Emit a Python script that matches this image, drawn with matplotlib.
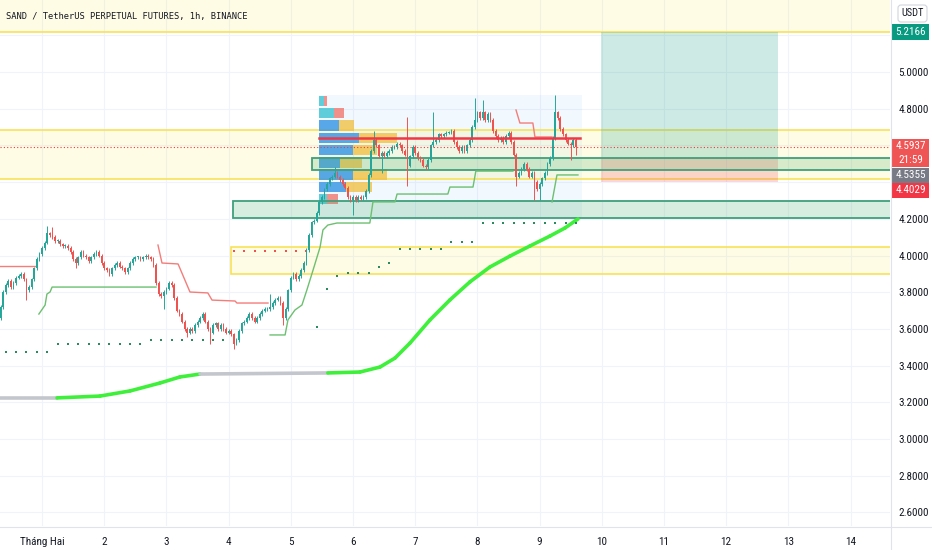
import matplotlib
matplotlib.use("Agg")
import matplotlib.pyplot as plt
from matplotlib import font_manager
from matplotlib.patches import Rectangle, FancyBboxPatch
from matplotlib.lines import Line2D
from matplotlib.transforms import IdentityTransform
import numpy as np

# ------------------------------------------------------------------ data
title = "SAND / TetherUS PERPETUAL FUTURES, 1h, BINANCE"
day_labels = ["Tháng Hai", "2", "3", "4", "5", "6", "7", "8", "9", "10", "11", "12", "13", "14"]
price_labels = [2.6, 2.8, 3.0, 3.2, 3.4, 3.6, 3.8, 4.0, 4.2, 4.8, 5.0]
grid_prices = [2.6, 2.8, 3.0, 3.2, 3.4, 3.6, 3.8, 4.0, 4.2, 4.4, 4.6, 4.8, 5.0, 5.2]

first_candle_hour = -16          # hours from 1 Feb 00:00
first_open = 3.66
closes = [
    3.72, 3.80, 3.84, 3.86, 3.83, 3.85, 3.88, 3.89, 3.90, 3.87,
    3.81, 3.83, 3.87, 3.93, 3.98, 4.01, 4.04, 4.07, 4.12, 4.11,
    4.10, 4.08, 4.08, 4.06, 4.05, 4.05, 4.04, 4.02, 3.98, 3.96,
    3.99, 4.02, 4.00, 3.99, 3.97, 3.99, 4.01, 4.02, 4.00, 3.96,
    3.93, 3.92, 3.90, 3.93, 3.95, 3.96, 3.94, 3.93, 3.91, 3.93,
    3.96, 3.98, 3.99, 3.99, 3.98, 3.99, 4.00, 3.99, 3.98, 3.95,
    3.85, 3.79, 3.78, 3.80, 3.82, 3.85, 3.84, 3.77, 3.70, 3.68,
    3.64, 3.60, 3.58, 3.60, 3.59, 3.62, 3.64, 3.66, 3.68, 3.64,
    3.60, 3.58, 3.62, 3.63, 3.60, 3.62, 3.60, 3.58, 3.59, 3.57,
    3.52, 3.54, 3.59, 3.63, 3.64, 3.66, 3.68, 3.66, 3.64, 3.66,
    3.68, 3.70, 3.71, 3.71, 3.72, 3.74, 3.76, 3.77, 3.74, 3.66,
    3.71, 3.81, 3.88, 3.90, 3.87, 3.89, 3.92, 3.96, 4.03, 4.11,
    4.18, 4.19, 4.23, 4.29, 4.32, 4.36, 4.39, 4.42, 4.43, 4.45,
    4.43, 4.41, 4.39, 4.37, 4.32, 4.30, 4.32, 4.30, 4.32, 4.31,
    4.32, 4.35, 4.44, 4.57, 4.63, 4.60, 4.54, 4.56, 4.54, 4.56,
    4.57, 4.59, 4.59, 4.61, 4.60, 4.57, 4.55, 4.49, 4.54, 4.59,
    4.56, 4.53, 4.52, 4.49, 4.48, 4.52, 4.60, 4.62, 4.63, 4.66,
    4.65, 4.66, 4.67, 4.67, 4.68, 4.62, 4.59, 4.57, 4.59, 4.57,
    4.60, 4.63, 4.70, 4.74, 4.78, 4.75, 4.78, 4.74, 4.77, 4.74,
    4.68, 4.65, 4.63, 4.64, 4.62, 4.65, 4.67, 4.62, 4.55, 4.43,
    4.45, 4.47, 4.50, 4.47, 4.43, 4.45, 4.40, 4.36, 4.39, 4.42,
    4.45, 4.50, 4.53, 4.64, 4.78, 4.75, 4.69, 4.66, 4.63, 4.61,
    4.60, 4.63, 4.5937,
]
wick_highs = {18: 4.16, 20: 4.155, 104: 3.79, 129: 4.48, 144: 4.68, 157: 4.755,
              167: 4.78, 183: 4.86, 186: 4.85, 214: 4.875}
wick_lows = {10: 3.76, 29: 3.93, 63: 3.71, 72: 3.555, 81: 3.52, 90: 3.49, 109: 3.62,
             136: 4.22, 147: 4.45, 157: 4.38, 199: 4.38, 206: 4.30, 208: 4.30,
             220: 4.52, 222: 4.55}

# trailing stop lines (hours, price)
red1_hours = [-18, -2.3]
red1_values = [3.943, 3.943]
red2_hours = [44.75, 46.3, 52.5, 57.1, 64.0, 65.6, 74.5, 75.2, 87.2]
red2_values = [4.057, 3.959, 3.954, 3.801, 3.796, 3.757, 3.752, 3.741, 3.741]
red3_hours = [182.9, 184.4, 189.4, 190.2, 196.8]
red3_values = [4.793, 4.722, 4.722, 4.646, 4.646]
green1_hours = [-1.2, 1.2, 1.9, 3.1, 3.9, 44.0]
green1_values = [3.681, 3.730, 3.790, 3.801, 3.828, 3.828]
green2_hours = [88.0, 93.8, 94.9, 97.6, 100.3, 102.2, 104.6, 107.3, 108.4, 110.3, 113.8,
                126.5, 127.7, 136.2, 137.0, 156.6, 157.4, 166.3, 167.4, 181.7]
green2_values = [3.567, 3.567, 3.649, 3.703, 3.730, 3.812, 3.921, 4.046, 4.139, 4.166, 4.177,
                 4.177, 4.292, 4.292, 4.335, 4.335, 4.373, 4.373, 4.460, 4.460]
green3_hours = [196.8, 198.7, 206.8]
green3_values = [4.292, 4.439, 4.439]

# dotted markers
green_dot_hours = [-14, -10, -6, -2, 2, 6, 10, 14, 18, 22, 26, 30, 34, 38, 42, 46, 50, 54,
                   58, 62, 66, 70, 106, 110, 114, 118, 122, 126, 130, 134, 138, 142, 146,
                   150, 154, 158, 162, 166, 170, 174, 178, 182, 186, 190, 194, 198, 202, 206]
green_dot_values = [3.476, 3.476, 3.476, 3.476, 3.476,
                    3.518, 3.518, 3.518, 3.518, 3.518, 3.518, 3.518, 3.518, 3.518,
                    3.537, 3.537, 3.537, 3.537, 3.537, 3.537, 3.537, 3.537,
                    3.61, 3.817, 3.89, 3.905, 3.905, 3.905, 3.937, 3.96,
                    4.035, 4.035, 4.035, 4.035, 4.035,
                    4.074, 4.074, 4.074,
                    4.177, 4.177, 4.177, 4.177, 4.177, 4.177, 4.177, 4.177, 4.177, 4.177]
red_dot_hours = [74, 78, 82, 86, 90, 94, 98, 102]
red_dot_values = [4.025, 4.025, 4.025, 4.025, 4.025, 4.025, 4.025, 4.025]

# long moving average
ma_hours = [-18, 5.8, 22.4, 34, 45.5, 53.2, 61, 110.3, 122.7, 130.4, 136.2, 142, 149.7,
            157.4, 165.1, 172.8, 180.6, 188.3, 196, 201.8, 206.8]
ma_values = [3.224, 3.224, 3.234, 3.262, 3.305, 3.338, 3.354, 3.36, 3.365, 3.392, 3.441,
             3.523, 3.649, 3.758, 3.856, 3.937, 3.997, 4.052, 4.106, 4.15, 4.199]
ma_flat = [True, False, False, False, False, False, True, False, False, False, False,
           False, False, False, False, False, False, False, False, False]

# volume profile
vp_top = 4.875
vp_row = 0.067
vp_up = [5, 15, 20, 40, 34, 21, 34, 27, 8]
vp_down = [3, 10, 15, 38, 24, 22, 34, 26, 11]
vp_value_area = [False, False, True, True, True, True, True, True, False]
vp_start, vp_end, vp_bottom = 106.7, 208.3, 4.204
poc_price = 4.64

# zones (low, high, start hour)
yellow_zones = [(5.2166, 5.45, -18), (4.417, 4.684, -18), (3.899, 4.046, 72.9)]
green_zones = [(4.466, 4.532, 104.2), (4.204, 4.297, 73.7)]

# long position
pos_entry, pos_target, pos_stop = 4.5355, 5.2166, 4.4029
pos_start, pos_end = 215.7, 284.0
last_price = 4.5937
countdown = "21:59"

# ------------------------------------------------------------------ fonts
avail = {f.name for f in font_manager.fontManager.ttflist}
def pick(names):
    for n in names:
        if n in avail:
            return n
    return "DejaVu Sans"
narrow = pick(["Liberation Sans Narrow", "Roboto Condensed", "Liberation Sans"])
axis_fs = 8 if "Narrow" in narrow or "Condensed" in narrow else 7.3
TXT = "#131722"

# ------------------------------------------------------------------ figure
W, H = 932, 550
PW, PH = 890, 526
fig = plt.figure(figsize=(W / 100, H / 100), dpi=100)
fig.patch.set_facecolor("white")
ax = fig.add_axes([0, (H - PH) / H, PW / W, PH / H])
hpp = 24 / 62.2                       # hours per pixel
x_left = -42 * hpp
x_right = x_left + PW * hpp
y_top = 5 + 72 / 183.5
y_bot = y_top - PH / 183.5
ax.set_xlim(x_left, x_right)
ax.set_ylim(y_bot, y_top)
for s in ax.spines.values():
    s.set_visible(False)
ax.set_facecolor("white")

# grid
day_hours = [24 * k for k in range(len(day_labels))]
for p in grid_prices:
    ax.axhline(p, color="#f0f3fa", lw=0.8, zorder=0)
for h in day_hours:
    ax.axvline(h, color="#f0f3fa", lw=0.8, zorder=0)

ax.set_xticks(day_hours)
ax.set_xticklabels(day_labels)
ax.set_yticks(price_labels)
ax.set_yticklabels([f"{v:.4f}" for v in price_labels])
ax.yaxis.tick_right()
ax.tick_params(axis="both", length=0, labelcolor=TXT, labelsize=axis_fs)
ax.tick_params(axis="y", pad=6)
ax.tick_params(axis="x", pad=8)
for lab in ax.get_xticklabels() + ax.get_yticklabels():
    lab.set_fontfamily(narrow)

# zones
for lo, hi, st in yellow_zones:
    ax.add_patch(Rectangle((st, lo), x_right + 10 - st, hi - lo, fc="#ffeb3b", alpha=0.13,
                           ec="none", zorder=1))
    ax.add_patch(Rectangle((st, lo), x_right + 10 - st, hi - lo, fill=False,
                           ec="#f7e25a", lw=1.2, zorder=1.2))

# volume profile background
ax.add_patch(Rectangle((vp_start, vp_bottom), vp_end - vp_start, vp_top - vp_bottom,
                       fc="#2196f3", alpha=0.06, ec="none", zorder=1.1))

# position tool
ax.add_patch(Rectangle((pos_start, pos_entry), pos_end - pos_start, pos_target - pos_entry,
                       fc="#089981", alpha=0.2, ec="none", zorder=1.3))
ax.add_patch(Rectangle((pos_start, pos_stop), pos_end - pos_start, pos_entry - pos_stop,
                       fc="#f23645", alpha=0.2, ec="none", zorder=1.3))

# volume profile rows
for k in range(len(vp_up)):
    top = vp_top - k * vp_row
    bot = top - vp_row + 0.006
    cu = "#3d9ae6" if vp_value_area[k] else "#45c6d4"
    cd = "#f2c146" if vp_value_area[k] else "#f2776e"
    wu = vp_up[k] * hpp
    wd = vp_down[k] * hpp
    ax.add_patch(Rectangle((vp_start, bot), wu, top - bot - 0.004, fc=cu, alpha=0.85,
                           ec="none", zorder=2))
    ax.add_patch(Rectangle((vp_start + wu, bot), wd, top - bot - 0.004, fc=cd, alpha=0.8,
                           ec="none", zorder=2))

for lo, hi, st in green_zones:
    ax.add_patch(Rectangle((st, lo), x_right + 10 - st, hi - lo, fc="#4caf6e", alpha=0.22,
                           ec="none", zorder=2.5))
    ax.add_patch(Rectangle((st, lo), x_right + 10 - st, hi - lo, fill=False,
                           ec="#3f9f7c", lw=1.3, zorder=2.6))

# moving average
for i in range(len(ma_hours) - 1):
    col = "#c3c6cd" if ma_flat[i] else "#3ef03a"
    ax.plot(ma_hours[i:i + 2], ma_values[i:i + 2], color=col, lw=2.6,
            solid_capstyle="round", zorder=3)

# trailing lines
for hs, vs in [(red1_hours, red1_values), (red2_hours, red2_values), (red3_hours, red3_values)]:
    ax.plot(hs, vs, color="#f47d7a", lw=1.0, zorder=3.2)
for hs, vs in [(green1_hours, green1_values), (green2_hours, green2_values),
               (green3_hours, green3_values)]:
    ax.plot(hs, vs, color="#6cc070", lw=1.0, zorder=3.2)

# dots
ax.plot(green_dot_hours, green_dot_values, ls="none", marker="s", ms=2.0, mew=0,
        color="#2c8a5f", zorder=3.3)
ax.plot(red_dot_hours, red_dot_values, ls="none", marker="s", ms=2.0, mew=0,
        color="#f05050", zorder=3.3)

# candles
n = len(closes)
hours = np.array([first_candle_hour + i for i in range(n)], dtype=float)
opens = [first_open] + closes[:-1]
bcol, blo, bh, wlo, whi = [], [], [], [], []
for i in range(n):
    o, c = opens[i], closes[i]
    lo_b, hi_b = min(o, c), max(o, c)
    bcol.append("#26a69a" if c >= o else "#ef5350")
    blo.append(lo_b)
    bh.append(max(hi_b - lo_b, 0.005))
    whi.append(wick_highs.get(i, hi_b + 0.01))
    wlo.append(wick_lows.get(i, lo_b - 0.01))
ax.vlines(hours, wlo, whi, colors=bcol, lw=0.7, zorder=4)
ax.bar(hours, bh, bottom=blo, width=0.65, color=bcol, linewidth=0, zorder=4.5)

# POC line and last price line
ax.plot([vp_start, vp_end - 0.7], [poc_price, poc_price], color="#f23645", lw=1.8, zorder=5)
ax.axhline(last_price, color="#f23645", lw=0.8, ls=(0, (1, 2)), zorder=5)

# ------------------------------------------------------------------ frame lines
ID = IdentityTransform()
fig.add_artist(Line2D([PW + 0.5, PW + 0.5], [0, H], color="#e0e3eb", lw=0.8, transform=ID))
fig.add_artist(Line2D([0, W], [H - PH - 0.5, H - PH - 0.5], color="#e0e3eb", lw=0.8,
                      transform=ID))

# title
fig.text(6, H - 16, title, transform=ID, fontsize=6.3, family="DejaVu Sans Mono",
         color=TXT, va="center", ha="left")

# USDT box
fig.add_artist(FancyBboxPatch((898, H - 22), 29, 17, boxstyle="round,pad=0,rounding_size=3",
                              fc="white", ec="#d1d4dc", lw=0.8, transform=ID))
fig.text(912.5, H - 13.5, "USDT", transform=ID, fontsize=axis_fs - 0.5, family=narrow,
         color=TXT, ha="center", va="center")

# price labels on the axis
fig.canvas.draw()
def ypix(p):
    return H - ax.transData.transform((0, p))[1]

def label(top, height, color, lines):
    fig.add_artist(Rectangle((892, H - top - height), 37, height, fc=color, ec="none",
                             transform=ID))
    step = height / len(lines)
    for j, t in enumerate(lines):
        fig.text(910.5, H - top - step * (j + 0.5), t, transform=ID, fontsize=axis_fs,
                 family=narrow, color="white", ha="center", va="center")

label(ypix(pos_target) - 8, 16, "#089981", [f"{pos_target:.4f}"])
cur_top = ypix(last_price) - 8
label(cur_top, 28, "#f05555", [f"{last_price:.4f}", countdown])
ent_top = max(ypix(pos_entry) - 8, cur_top + 29)
label(ent_top, 15, "#787b86", [f"{pos_entry:.4f}"])
stop_top = max(ypix(pos_stop) - 8, ent_top + 15)
label(stop_top, 15, "#f23645", [f"{pos_stop:.4f}"])

fig.savefig("out.png", dpi=100)
